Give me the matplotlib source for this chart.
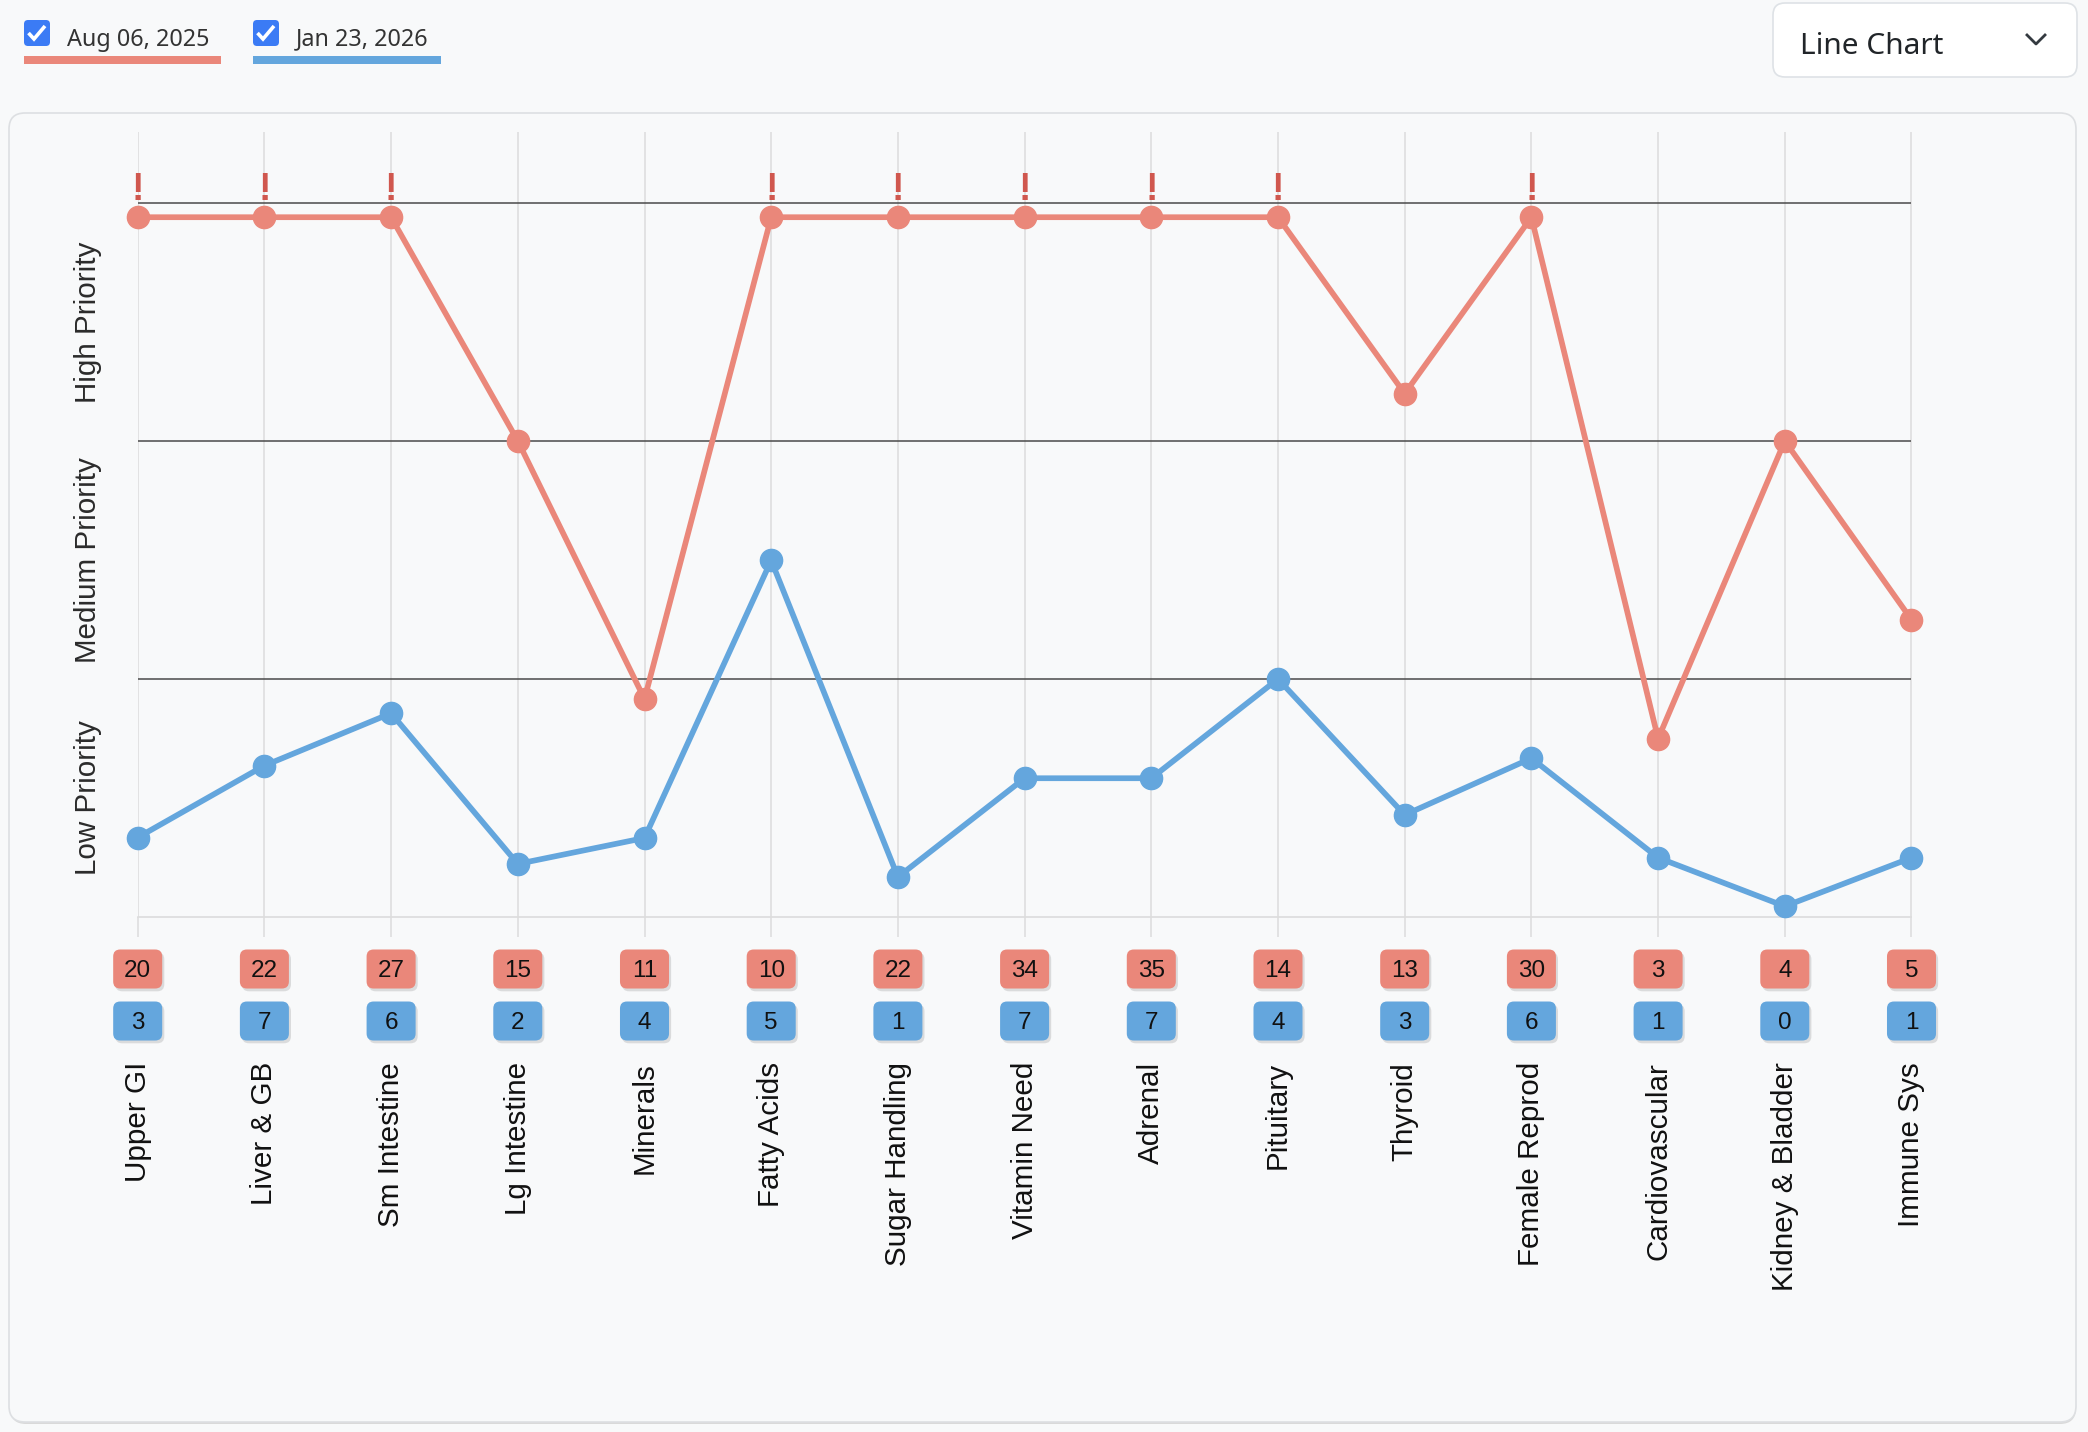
import matplotlib
matplotlib.use('Agg')
import matplotlib.pyplot as plt
import matplotlib.patheffects as pe
from matplotlib.patches import FancyBboxPatch, Rectangle, BoxStyle
from matplotlib.lines import Line2D
from matplotlib.markers import MarkerStyle
from matplotlib.transforms import IdentityTransform

# ---- data ----
categories = ['Upper GI', 'Liver & GB', 'Sm Intestine', 'Lg Intestine', 'Minerals',
              'Fatty Acids', 'Sugar Handling', 'Vitamin Need', 'Adrenal', 'Pituitary',
              'Thyroid', 'Female Reprod', 'Cardiovascular', 'Kidney & Bladder', 'Immune Sys']
series_labels = ['Aug 06, 2025', 'Jan 23, 2026']

# position on the priority scale (0-1 low, 1-2 medium, 2-3 high)
aug_levels = [2.94, 2.94, 2.94, 2.0, 0.916, 2.94, 2.94, 2.94, 2.94, 2.94,
              2.199, 2.94, 0.749, 2.0, 1.249]
jan_levels = [0.334, 0.636, 0.856, 0.223, 0.332, 1.498, 0.168, 0.583, 0.583, 1.0,
              0.429, 0.667, 0.249, 0.045, 0.249]

aug_counts = [20, 22, 27, 15, 11, 10, 22, 34, 35, 14, 13, 30, 3, 4, 5]
jan_counts = [3, 7, 6, 2, 4, 5, 1, 7, 7, 4, 3, 6, 1, 0, 1]

aug_flags = [True, True, True, False, False, True, True, True, True, True,
             False, True, False, False, False]

band_labels = ['Low Priority', 'Medium Priority', 'High Priority']
band_edges = [1, 2, 3]

# ---- style ----
RED = '#ea877a'
BLUE = '#64a6dd'
FLAG = '#d0574e'
BG = '#f8f9fa'
GRID = '#dcdcdc'
W, H = 2088, 1432

plt.rcParams['font.family'] = ['Liberation Sans', 'DejaVu Sans']

fig = plt.figure(figsize=(W / 100, H / 100), dpi=100, facecolor=BG)
pix = IdentityTransform()


def top(y):
    # convert a top-origin pixel row to matplotlib display coords
    return H - y


# card behind the chart
fig.patches.append(FancyBboxPatch((10, top(1424)), 2066, 1309,
                                  boxstyle='round,pad=0,rounding_size=16',
                                  fc='#d9d9d9', ec='none', transform=pix, zorder=-2))
fig.patches.append(FancyBboxPatch((9, top(1422)), 2067, 1309,
                                  boxstyle='round,pad=0,rounding_size=16',
                                  fc=BG, ec='#dddfe2', lw=1.2, transform=pix, zorder=-1))

# legend checkboxes
legend_x = [24, 253]
legend_w = [197, 188]
for x0, w, label, col in zip(legend_x, legend_w, series_labels, [RED, BLUE]):
    fig.patches.append(FancyBboxPatch((x0, top(46)), 26, 26,
                                      boxstyle='round,pad=0,rounding_size=4',
                                      fc='#3b7bf5', ec='none', transform=pix))
    fig.lines.append(Line2D([x0 + 4.5, x0 + 10, x0 + 21], [top(33), top(39), top(26)],
                            color='white', lw=2.6, solid_capstyle='butt',
                            solid_joinstyle='miter', transform=pix))
    fig.text(x0 + 43, top(45.5), label, transform=pix, fontsize=16.8,
             family='Noto Sans', color='#333333', va='baseline', ha='left')
    fig.patches.append(Rectangle((x0, top(64)), w, 8, fc=col, ec='none', transform=pix))

# chart type dropdown
fig.patches.append(FancyBboxPatch((1773, top(77)), 304, 74,
                                  boxstyle='round,pad=0,rounding_size=12',
                                  fc='white', ec='#dee2e6', lw=1.2, transform=pix))
fig.text(1800, top(53.5), 'Line Chart', transform=pix, fontsize=21.5,
         family='Noto Sans', color='#212529', va='baseline', ha='left')
fig.lines.append(Line2D([2027, 2036, 2045], [top(35), top(44), top(35)],
                        color='#343a40', lw=2.0, transform=pix))

# ---- chart ----
ax = fig.add_axes([137.7 / W, 1 - 917 / H, (1911.5 - 137.7) / W, (917 - 132) / H])
ax.set_facecolor('none')
ax.set_zorder(1)
x = list(range(len(categories)))
ax.set_xlim(0, len(categories) - 1)
ax.set_ylim(0, 3.298)

for s in ['top', 'left', 'right']:
    ax.spines[s].set_visible(False)
ax.spines['bottom'].set_color(GRID)
ax.spines['bottom'].set_linewidth(1.2)
ax.set_xticks(x)
ax.set_xticklabels([])
ax.set_yticks([])
ax.tick_params(axis='x', length=14.4, width=1.1, color=GRID)
ax.grid(axis='x', color=GRID, lw=1.1)
ax.set_axisbelow(True)

ax.hlines(band_edges, 0, len(categories) - 1, color='#4a4a4a', lw=1.1, zorder=2)

ax.plot(x, jan_levels, color=BLUE, lw=4.1, marker='o', ms=16,
        clip_on=False, zorder=3)
ax.plot(x, aug_levels, color=RED, lw=4.1, marker='o', ms=16,
        clip_on=False, zorder=4)

for xi, lvl, flag in zip(x, aug_levels, aug_flags):
    if flag:
        ax.text(xi, 3.013, '!', ha='center', va='baseline', fontsize=27,
                fontweight='bold', color=FLAG, zorder=5)

# band labels
for i, lab in enumerate(band_labels):
    ax.text(-0.392, i + 0.5, lab, rotation=90, ha='center', va='center',
            fontsize=21.3, color='#2b2b2b', clip_on=False)

# count badges
badge_path = BoxStyle.Round(pad=0, rounding_size=7)(-24.5, -19.5, 49, 39, 1.0)
badge = MarkerStyle(badge_path)
shadow = [pe.SimplePatchShadow(offset=(1.5, -2), alpha=0.18, shadow_rgbFace='#555555'),
          pe.Normal()]
for yb, counts, col in [(-0.2185, aug_counts, RED), (-0.437, jan_counts, BLUE)]:
    ax.plot(x, [yb] * len(x), linestyle='none', marker=badge, ms=35.3,
            mfc=col, mec='none', clip_on=False, zorder=5, path_effects=shadow)
    for xi, c in zip(x, counts):
        ax.annotate(str(c), (xi, yb), xytext=(0, -1.5), textcoords='offset pixels',
                    ha='center', va='center', fontsize=17.5, color='#111111',
                    annotation_clip=False, zorder=6)

# category labels
for xi, lab in zip(x, categories):
    ax.text(xi, -0.609, lab, rotation=90, ha='center', va='top', fontsize=21.3,
            color='#111111', clip_on=False)

fig.savefig('out.png', dpi=100, facecolor=BG)
